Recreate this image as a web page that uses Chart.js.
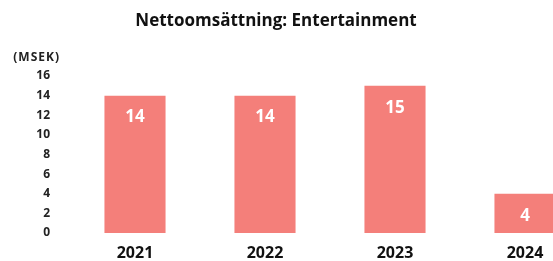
<!DOCTYPE html>
<html>
<head>
<meta charset="utf-8">
<script src="https://cdn.jsdelivr.net/npm/chart.js@4"></script>
<style>
  html, body { margin: 0; padding: 0; background: #fff; overflow: hidden; }
  #wrap { width: 553px; height: 261px; overflow: hidden; }
</style>
</head>
<body>
<div id="wrap"><canvas id="myChart" width="590" height="261"></canvas></div>
<script>
const years = ["2021", "2022", "2023", "2024"];
const sales = [14, 14, 15, 4];
const yTicks = [0, 2, 4, 6, 8, 10, 12, 14, 16];
const chartTitle = "Nettoomsättning: Entertainment";
const unitLabel = "(MSEK)";

const barColor = "#F47F7A";
const fontName = "'Open Sans', sans-serif";

// titel + enhet + värden i staplarna
const extraText = {
  id: "extraText",
  afterDatasetsDraw(chart) {
    const ctx = chart.ctx;
    ctx.save();
    ctx.fillStyle = "#111";
    ctx.textAlign = "center";
    ctx.textBaseline = "middle";
    ctx.font = "bold 17px " + fontName;
    ctx.fillText(chartTitle, 276, 21);

    ctx.textAlign = "right";
    ctx.font = "bold 12px " + fontName;
    ctx.fillStyle = "#222";
    ctx.letterSpacing = "1px";
    ctx.fillText(unitLabel, 60, 58);
    ctx.letterSpacing = "0px";

    ctx.textAlign = "center";
    ctx.fillStyle = "#fff";
    ctx.font = "bold 17px " + fontName;
    chart.getDatasetMeta(0).data.forEach((bar, i) => {
      ctx.fillText(String(sales[i]), bar.x, bar.y + 22);
    });
    ctx.restore();
  },
};

new Chart(document.getElementById("myChart"), {
  type: "bar",
  data: {
    labels: years,
    datasets: [
      {
        data: sales,
        backgroundColor: barColor,
        borderWidth: 0,
        categoryPercentage: 1,
        barPercentage: 0.47,
      },
    ],
  },
  options: {
    responsive: false,
    maintainAspectRatio: false,
    animation: false,
    layout: { padding: { top: 76, left: 0, right: 0, bottom: 0 } },
    plugins: {
      legend: { display: false },
      tooltip: { enabled: false },
    },
    scales: {
      x: {
        afterFit(scale) {
          scale.height = 28;
        },
        grid: { display: false, drawTicks: false },
        border: { display: false },
        ticks: {
          color: "#111",
          font: { family: fontName, size: 16, weight: "bold" },
          padding: 11,
        },
      },
      y: {
        min: 0,
        max: 16,
        afterFit(scale) {
          scale.width = 70;
        },
        afterBuildTicks(scale) {
          scale.ticks = yTicks.map((v) => ({ value: v }));
        },
        grid: { display: false },
        border: { display: false },
        ticks: {
          color: "#222",
          font: { family: fontName, size: 12, weight: "bold" },
          padding: 12,
        },
      },
    },
  },
  plugins: [extraText],
});
</script>
</body>
</html>
